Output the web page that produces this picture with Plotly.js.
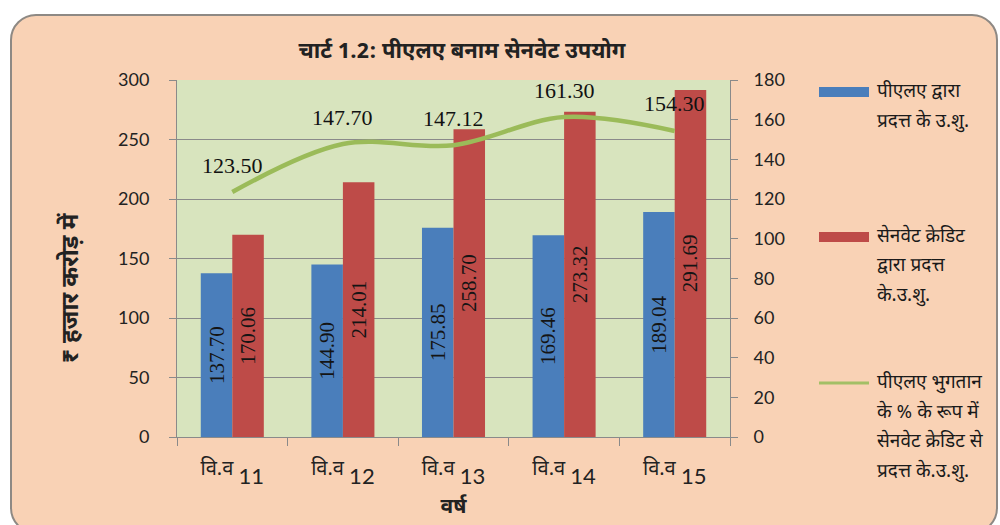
<!DOCTYPE html>
<html>
<head>
<meta charset="utf-8">
<script src="https://cdn.plot.ly/plotly-3.0.1.min.js"></script>
<style>
  html, body { margin:0; padding:0; background:#ffffff; width:1000px; height:525px; overflow:hidden; }
  #frame { position:absolute; left:10px; top:14px; width:988px; height:520px; background:#f9d2b5;
           border:2.5px solid #8e8984; border-radius:26px; box-sizing:border-box; }
  #chart { position:absolute; left:0; top:0; width:1000px; height:525px; }
</style>
</head>
<body>
<div id="frame"></div>
<div id="chart"></div>
<script>
// ---- data ----
const yearPrefix = 'वि.व';
const yearNums = ['11', '12', '13', '14', '15'];
const categories = yearNums.map(n => yearPrefix + ' ' + n);
const plaValues = [137.70, 144.90, 175.85, 169.46, 189.04];
const cenvatValues = [170.06, 214.01, 258.70, 273.32, 291.69];
const pctValues = [123.50, 147.70, 147.12, 161.30, 154.30];
const seriesNames = [
  ['पीएलए द्वारा', 'प्रदत्त के उ.शु.'],
  ['सेनवेट क्रेडिट', 'द्वारा प्रदत्त', 'के.उ.शु.'],
  ['पीएलए भुगतान', 'के % के रूप में', 'सेनवेट क्रेडिट से', 'प्रदत्त के.उ.शु.']
];
const titleText = 'चार्ट 1.2: पीएलए बनाम सेनवेट उपयोग';
const yTitle = '₹ हजार करोड़ में';
const xTitle = 'वर्ष';

const colors = ['#4a7ebb', '#be4b48', '#9bbb59'];
const devFont = '"Noto Sans Devanagari", "Noto Sans", sans-serif';
const numFont = 'Lato, "Noto Sans", sans-serif';
const serifFont = '"Liberation Serif", "DejaVu Serif", serif';

const tickText = yearNums.map(n => yearPrefix + ' <span style="font-family:Lato;font-size:22px;baseline-shift:-9px">' + n + '</span>');

const barText = {family: serifFont, size: 21, color: '#141414'};

const traces = [
  {type:'bar', x:categories, y:plaValues, name: seriesNames[0].join(' '), marker:{color:colors[0]},
   texttemplate:'%{y:.2f}', textposition:'inside', insidetextanchor:'middle', textangle:-90,
   textfont: barText, insidetextfont: barText, hoverinfo:'y', showlegend:false},
  {type:'bar', x:categories, y:cenvatValues, name: seriesNames[1].join(' '), marker:{color:colors[1]},
   texttemplate:'%{y:.2f}', textposition:'inside', insidetextanchor:'middle', textangle:-90,
   textfont: barText, insidetextfont: barText, hoverinfo:'y', showlegend:false},
  {type:'scatter', mode:'lines', x:categories, y:pctValues, yaxis:'y2', name: seriesNames[2].join(' '),
   line:{color:colors[2], width:4.5, shape:'spline', smoothing:1}, showlegend:false}
];

const axisGray = '#8a8a8a';
const annotations = [];
// line value labels
pctValues.forEach((v, i) => {
  annotations.push({x:categories[i], y:v, xref:'x', yref:'y2', yshift:27, showarrow:false,
    text: v.toFixed(2), font:{family:serifFont, size:22, color:'#111'}});
});

// manual legend
const shapes = [];
const px = v => (v - 177) / 553;
const py = v => (437 - v) / 357;
const legendY = [92, 237, 383];
legendY.forEach((yc, i) => {
  if (i < 2) {
    shapes.push({type:'rect', xref:'paper', yref:'paper', x0:px(819), x1:px(869), y0:py(yc+5), y1:py(yc-5),
      fillcolor:colors[i], line:{width:0}});
  } else {
    shapes.push({type:'line', xref:'paper', yref:'paper', x0:px(819), x1:px(869), y0:py(yc), y1:py(yc),
      line:{color:'#a3bf66', width:3}});
  }
  seriesNames[i].forEach((ln, j) => {
    annotations.push({xref:'paper', yref:'paper', x:px(875), y:py(yc + j*29.5), xanchor:'left', yanchor:'middle',
      showarrow:false, text:ln, font:{family:devFont, size:19, color:'#1a1a1a'}});
  });
});

// y-axis title (placed like the reference, slightly below the plot centre)
annotations.push({xref:'paper', yref:'paper', x:px(72), y:py(288), xanchor:'center', yanchor:'middle',
  textangle:-90, showarrow:false, text:yTitle,
  font:{family:devFont, size:24, color:'#222', weight:'bold'}});

const layout = {
  width:1000, height:525,
  margin:{l:177, r:270, t:80, b:88},
  paper_bgcolor:'rgba(0,0,0,0)',
  plot_bgcolor:'#d8e4be',
  barmode:'group', bargap:0.43, bargroupgap:0,
  title:{text:titleText, xref:'container', x:0.462, xanchor:'center', yref:'container', y:0.905, yanchor:'middle',
         font:{family:devFont, size:22, color:'#222', weight:'bold'}},
  xaxis:{type:'category', tickvals:categories, ticktext:tickText, tickson:'boundaries', ticks:'outside', ticklen:8,
         tickcolor:axisGray, showline:true, linecolor:axisGray, linewidth:1, showgrid:false,
         tickfont:{family:devFont, size:20, color:'#222'}, ticklabelstandoff:13,
         title:{text:xTitle, standoff:10, font:{family:devFont, size:21, color:'#222', weight:'bold'}}},
  yaxis:{range:[0,300], dtick:50, showgrid:true, gridcolor:axisGray, gridwidth:1, zeroline:false,
         showline:true, linecolor:axisGray, ticks:'outside', ticklen:7, tickcolor:axisGray,
         tickfont:{family:numFont, size:18, color:'#222'}, ticklabelstandoff:16},
  yaxis2:{range:[0,180], dtick:20, overlaying:'y', side:'right', showgrid:false, zeroline:false,
          showline:true, linecolor:axisGray, ticks:'outside', ticklen:7, tickcolor:axisGray,
          tickfont:{family:numFont, size:18, color:'#222'}, ticklabelstandoff:12},
  annotations: annotations,
  shapes: shapes,
  showlegend:false
};

Plotly.newPlot('chart', traces, layout, {displayModeBar:false, staticPlot:true});
</script>
</body>
</html>
